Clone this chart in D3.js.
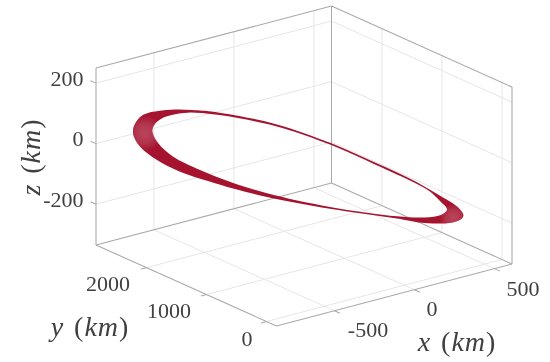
<!DOCTYPE html>
<html><head><meta charset="utf-8">
<script src="https://cdn.jsdelivr.net/npm/d3@7/dist/d3.min.js"></script>
<style>html,body{margin:0;padding:0;background:#fff}svg{display:block;filter:blur(0.35px)}</style>
</head><body><svg id="c" width="550" height="362"></svg>
<script>
const xTicks=[-500,0,500], yTicks=[0,1000,2000], zTicks=[-200,0,200];
const xDomain=[-862,610], yDomain=[-167,2841], zDomain=[-335,250];
const xLabel="x", yLabel="y", zLabel="z", unit="km";
// orbit band: outer edge
const outerX=[-659,-656,-636,-611,-579,-525,-471,-397,-206,-25,112,240,329,374,394,388,361,310,255,182,-31,-232,-340,-420,-509,-582,-636,-656];
const outerY=[2766,2758,2709,2644,2562,2423,2284,2096,1606,1141,789,462,234,119,66,83,152,283,422,609,1157,1672,1949,2154,2382,2570,2709,2758];
const outerZ=[20,37.1,68.6,84,93.5,103,106.5,106.4,83.7,35.1,-15.5,-65.6,-111.6,-137.4,-163.6,-177.4,-191.4,-199.3,-200.8,-194.1,-181,-159.8,-141.4,-123.7,-100.9,-68.7,-29.6,0.8];
// orbit band: inner edge
const innerX=[-597,-589,-567,-536,-484,-397,-206,-25,112,240,287,319,342,322,271,182,-31,-232,-344,-445,-532,-578];
const innerY=[2607,2587,2532,2450,2317,2096,1606,1141,789,462,340,258,201,250,381,609,1157,1672,1958,2219,2440,2560];
const innerZ=[25.9,49.7,69.8,84.2,96.4,97.5,77.1,29.2,-21.5,-71.6,-95.4,-124,-150.1,-170,-182.5,-186.8,-175,-147.6,-121.9,-89.6,-52.6,-13.2];
// thin-line moire at the two ends of the band (x, y, z of the centre)
const capX=[-618,362], capY=[2680,150], capZ=[15,-175];

const ox=276.5, oy=326;
const xPx=d3.scaleLinear().domain(xDomain).range([0,235.5]);
const xPy=d3.scaleLinear().domain(xDomain).range([0,-62]);
const yPx=d3.scaleLinear().domain(yDomain).range([0,-180.5]);
const yPy=d3.scaleLinear().domain(yDomain).range([0,-81]);
const zPy=d3.scaleLinear().domain(zDomain).range([0,-177]);
const P=(x,y,z)=>[ox+xPx(x)+yPx(y), oy+xPy(x)+yPy(y)+zPy(z)];

const svg=d3.select("#c");
const [x0,x1]=xDomain,[y0,y1]=yDomain,[z0,z1]=zDomain;
const seg=(a,b,cls)=>svg.append("line").attr("x1",a[0]).attr("y1",a[1]).attr("x2",b[0]).attr("y2",b[1]).attr("class",cls)
  .attr("stroke",cls==="grid"?"#e6e6e6":"#a9a9a9").attr("stroke-width",cls==="grid"?1:1.05);

xTicks.forEach(x=>{seg(P(x,y0,z0),P(x,y1,z0),"grid");seg(P(x,y1,z0),P(x,y1,z1),"grid");});
yTicks.forEach(y=>{seg(P(x0,y,z0),P(x1,y,z0),"grid");seg(P(x1,y,z0),P(x1,y,z1),"grid");});
zTicks.forEach(z=>{seg(P(x0,y1,z),P(x1,y1,z),"grid");seg(P(x1,y1,z),P(x1,y0,z),"grid");});

[[[x0,y1,z0],[x0,y0,z0]],[[x0,y0,z0],[x1,y0,z0]],[[x0,y1,z0],[x1,y1,z0]],[[x1,y1,z0],[x1,y0,z0]],
 [[x0,y1,z0],[x0,y1,z1]],[[x1,y0,z0],[x1,y0,z1]],[[x1,y1,z0],[x1,y1,z1]],
 [[x0,y1,z1],[x1,y1,z1]],[[x1,y1,z1],[x1,y0,z1]]].forEach(([a,b])=>seg(P(...a),P(...b),"box"));

const tk=92;
xTicks.forEach(x=>seg(P(x,y0,z0),P(x,y0-tk,z0),"box"));
yTicks.forEach(y=>seg(P(x0,y,z0),P(x0-34,y,z0),"box"));
zTicks.forEach(z=>seg(P(x0,y1,z),P(x0,y1+tk,z),"box"));

const label=(t,x,y,anchor)=>svg.append("text").text(t).attr("x",x).attr("y",y).attr("text-anchor",anchor)
  .attr("font-family","'Liberation Serif',serif").attr("font-size",22).attr("fill","#404040").attr("dominant-baseline","central");
const xLab=[368,432,523], xLabY=[329,308,288];
xTicks.forEach((t,i)=>label(t,xLab[i],xLabY[i],"middle"));
const yLab=[247,169,108], yLabY=[338,310,283];
yTicks.forEach((t,i)=>label(t,yLab[i],yLabY[i],"middle"));
zTicks.forEach((t,i)=>label(t,83.5,[199,138,78][i],"end"));

const axisLabel=(name,x,y,rot)=>{
  const g=svg.append("text").attr("transform",`translate(${x},${y}) rotate(${rot})`).attr("text-anchor","middle")
   .attr("dominant-baseline","central").attr("font-family","'Liberation Serif',serif").attr("font-size",28).attr("letter-spacing",1).attr("word-spacing",2).attr("fill","#404040");
  g.append("tspan").attr("font-style","italic").text(name);
  g.append("tspan").text(" (");
  g.append("tspan").attr("font-style","italic").text(unit);
  g.append("tspan").text(")");
};
axisLabel(xLabel,457,341,0);
axisLabel(yLabel,90,326,0);
axisLabel(zLabel,30,157,-90);

const line=d3.line().curve(d3.curveCatmullRomClosed.alpha(0.5));
const outerPts=outerX.map((x,i)=>P(x,outerY[i],outerZ[i]));
const innerPts=innerX.map((x,i)=>P(x,innerY[i],innerZ[i]));
const band=line(outerPts)+line(innerPts);
const defs=svg.append("defs");
defs.append("clipPath").attr("id","bandClip").append("path").attr("d",band).attr("clip-rule","evenodd");
const grad=defs.append("radialGradient").attr("id","cap");
grad.append("stop").attr("offset","0%").attr("stop-color","#fff").attr("stop-opacity",0.22);
grad.append("stop").attr("offset","55%").attr("stop-color","#fff").attr("stop-opacity",0.14);
grad.append("stop").attr("offset","100%").attr("stop-color","#fff").attr("stop-opacity",0);
svg.append("path").attr("d",band).attr("fill","#a5132f").attr("fill-rule","evenodd");
const caps=svg.append("g").attr("clip-path","url(#bandClip)");
capX.forEach((x,i)=>{const p=P(x,capY[i],capZ[i]);
  caps.append("circle").attr("cx",p[0]).attr("cy",p[1]).attr("r",[18,14][i]).attr("fill","url(#cap)");});
</script></body></html>
